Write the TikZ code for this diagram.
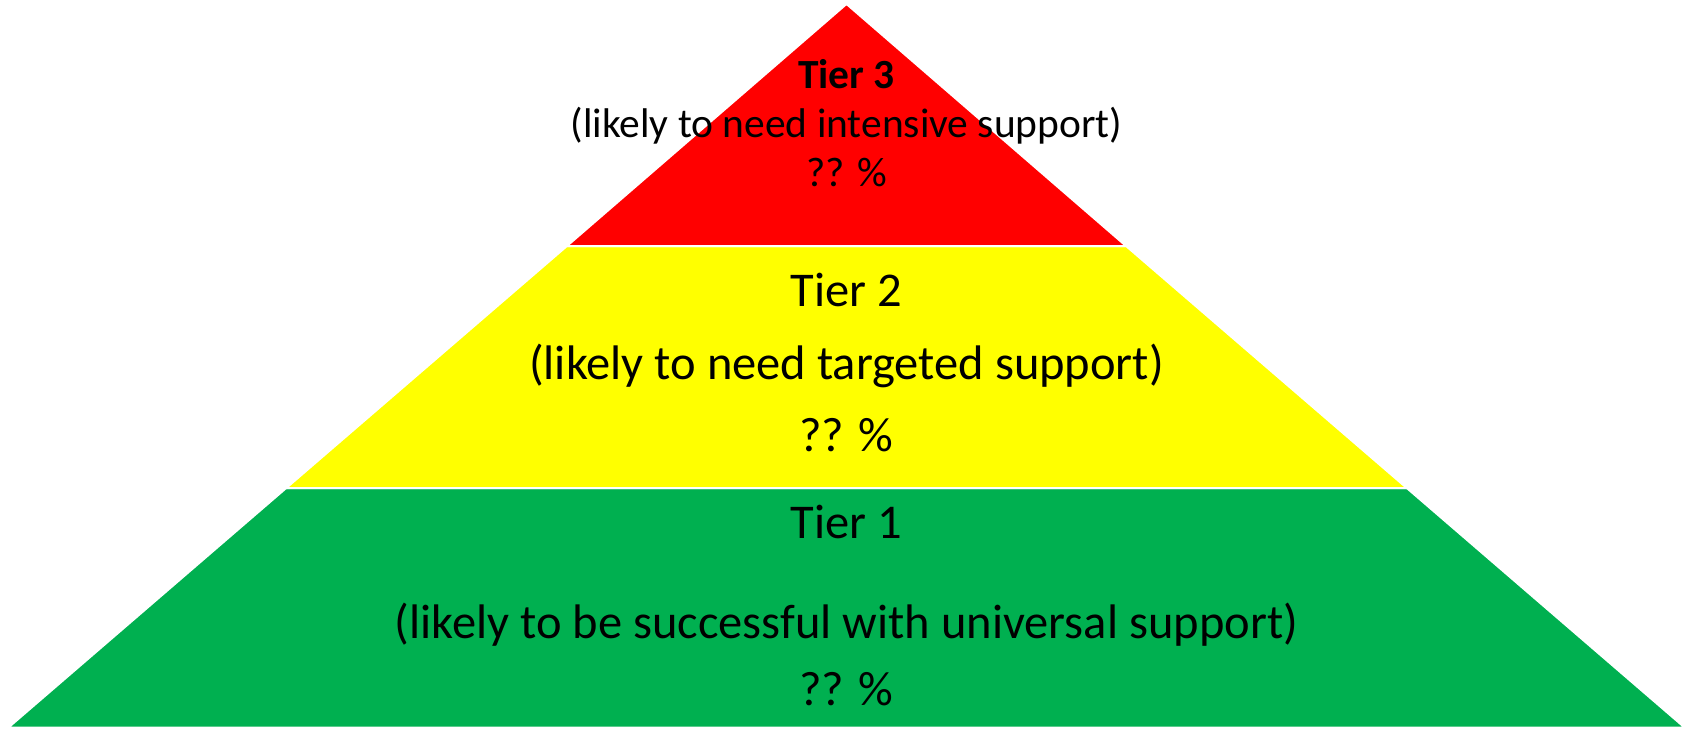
\documentclass[tikz,border=0pt]{standalone}
\usepackage{fontspec}
\setmainfont{Carlito}
\definecolor{tierred}{HTML}{FF0000}
\definecolor{tieryellow}{HTML}{FFFF00}
\definecolor{tiergreen}{HTML}{00B050}
\begin{document}
\begin{tikzpicture}[tier/.style={draw=white,line width=0.04cm,line join=miter},
	biglabel/.style={font=\fontsize{27.6}{33}\selectfont,anchor=base},
	smalllabel/.style={font=\fontsize{23.6}{28}\selectfont,anchor=base}]
	\useasboundingbox (0,0) rectangle (33.84,14.58);
	% tiers, bottom to top
	\filldraw[tier,fill=tiergreen]  (0.168,0.03) -- (33.692,0.03) -- (28.141,4.815) -- (5.719,4.815) -- cycle;
	\filldraw[tier,fill=tieryellow] (5.719,4.815) -- (28.141,4.815) -- (22.527,9.655) -- (11.333,9.655) -- cycle;
	\filldraw[tier,fill=tierred]    (11.333,9.655) -- (22.527,9.655) -- (16.93,14.5) -- cycle;
	
	% Tier 3
	\node[smalllabel] (tierthree)    at (16.93,12.80) {\textbf{Tier 3}};
	\node[smalllabel] (tierthreetxt) at (16.93,11.82) {(likely to need intensive support)};
	\node[smalllabel] (tierthreepct) at (16.93,10.84) {?? \%};
	% Tier 2
	\node[biglabel] (tiertwo)    at (16.93,8.44) {Tier 2};
	\node[biglabel] (tiertwotxt) at (16.93,6.98) {(likely to need targeted support)};
	\node[biglabel] (tiertwopct) at (16.93,5.54) {?? \%};
	% Tier 1
	\node[biglabel] (tierone)    at (16.93,3.80) {Tier 1};
	\node[biglabel] (tieronetxt) at (16.93,1.80) {(likely to be successful with universal support)};
	\node[biglabel] (tieronepct) at (16.93,0.46) {?? \%};
\end{tikzpicture}
\end{document}
